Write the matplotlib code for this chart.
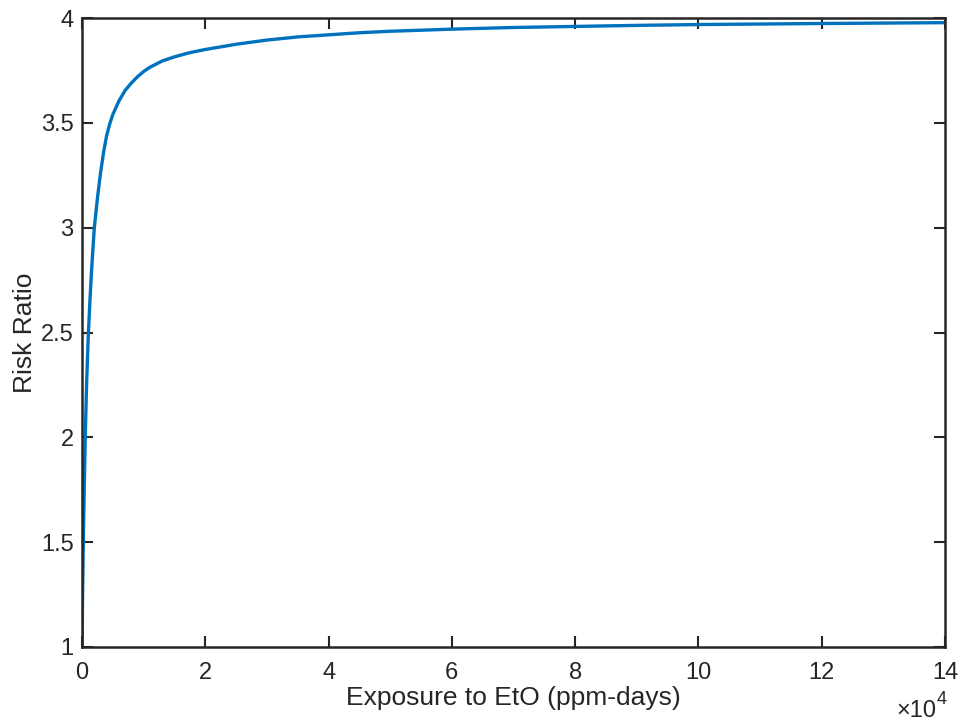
import matplotlib
matplotlib.use("Agg")
import matplotlib.pyplot as plt

# Values
exposure = [0, 50, 100, 150, 200, 300, 400, 500, 600, 750, 1000, 1250, 1500, 1750,
            2000, 2500, 3000, 3500, 4000, 4500, 5000, 6000, 7000, 8000, 9000,
            10000, 11000, 12000, 13000, 15000, 17500, 20000, 25000, 30000, 35000,
            40000, 45000, 50000, 60000, 70000, 80000, 90000, 100000, 120000, 140000]
risk_ratio = [1.0, 1.13, 1.26, 1.37, 1.47, 1.65, 1.81, 1.96, 2.09, 2.26, 2.47, 2.63,
              2.77, 2.89, 3.0, 3.14, 3.26, 3.36, 3.44, 3.495, 3.54, 3.605, 3.655, 3.69,
              3.72, 3.745, 3.765, 3.78, 3.795, 3.815, 3.835, 3.85, 3.875, 3.895, 3.91,
              3.92, 3.93, 3.937, 3.947, 3.955, 3.96, 3.965, 3.969, 3.974, 3.978]
x_ticks = [0, 20000, 40000, 60000, 80000, 100000, 120000, 140000]
x_tick_labels = ["0", "2", "4", "6", "8", "10", "12", "14"]
y_ticks = [1, 1.5, 2, 2.5, 3, 3.5, 4]
y_tick_labels = ["1", "1.5", "2", "2.5", "3", "3.5", "4"]

plt.rcParams['font.family'] = ['Liberation Sans', 'DejaVu Sans']
dark = "#262626"

fig = plt.figure(figsize=(9.58, 7.22), dpi=100)
ax = fig.add_axes([0.0856, 0.1039, 0.9008, 0.8711])
ax.plot(exposure, risk_ratio, color="#0072BD", linewidth=2.4,
        solid_capstyle="round", solid_joinstyle="round")

ax.set_xlim(0, 140000)
ax.set_ylim(1, 4)
ax.set_xticks(x_ticks)
ax.set_xticklabels(x_tick_labels)
ax.set_yticks(y_ticks)
ax.set_yticklabels(y_tick_labels)
ax.tick_params(direction="in", length=8, width=1.5, colors=dark, labelsize=17,
               top=True, right=True)
ax.tick_params(axis="x", pad=11)
ax.tick_params(axis="y", pad=6)
for s in ax.spines.values():
    s.set_linewidth(1.8)
    s.set_color(dark)

ax.set_xlabel("Exposure to EtO (ppm-days)", fontsize=19, color=dark, labelpad=1)
ax.set_ylabel("Risk Ratio", fontsize=19, color=dark, labelpad=3)
# axis multiplier: "×10" with superscript "4"
fig.text(936 / 958, 1 - 711 / 722, "\u00d710", ha="right", va="center",
         fontsize=17, color=dark)
fig.text(937 / 958, 1 - 700 / 722, "4", ha="left", va="center",
         fontsize=13, color=dark)

fig.savefig("out.png", dpi=100)
